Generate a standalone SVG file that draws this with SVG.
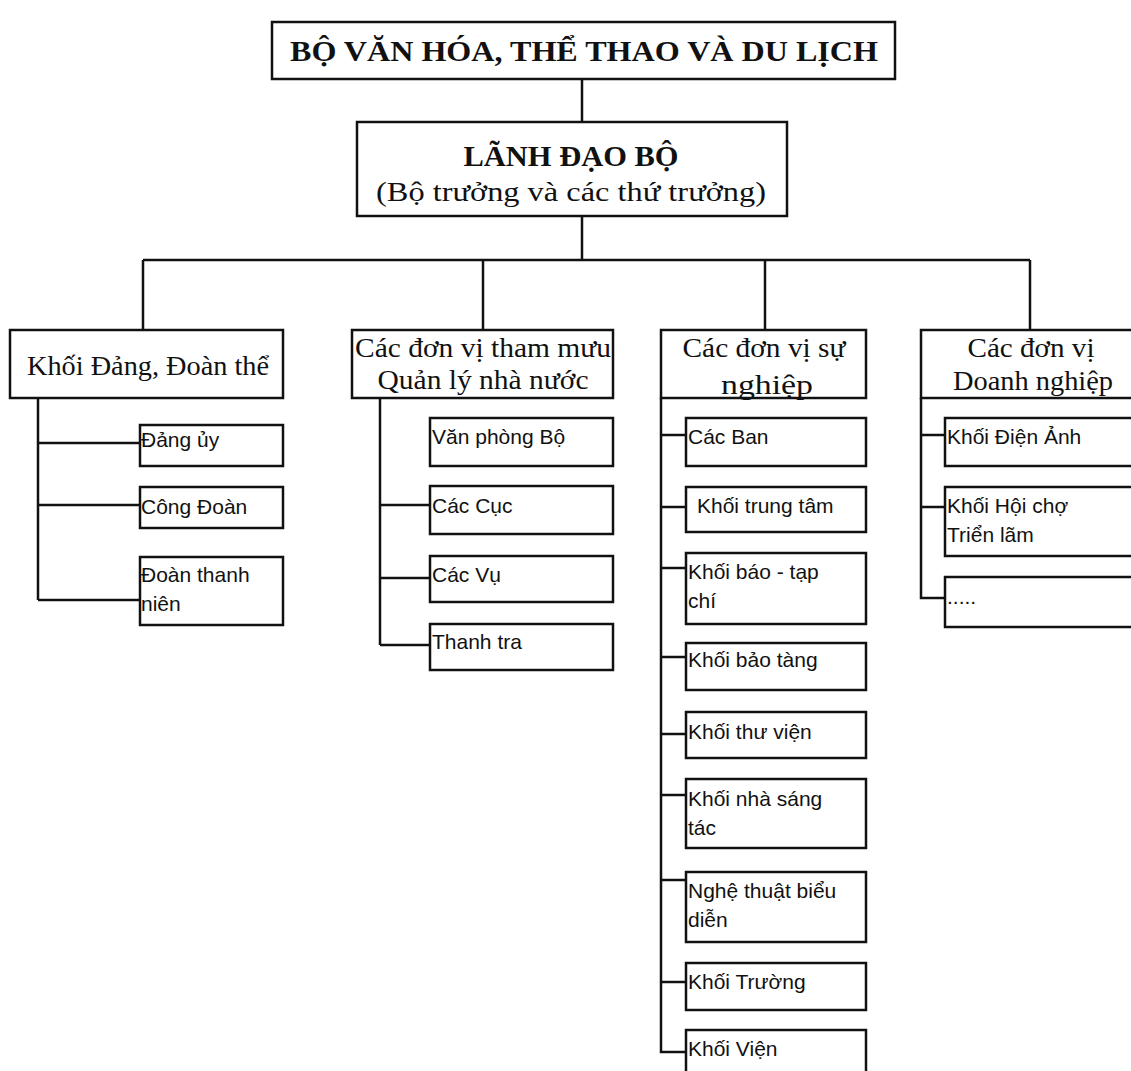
<svg xmlns="http://www.w3.org/2000/svg" width="1131" height="1071" viewBox="0 0 1131 1071">
<style>
.box{fill:#fff;stroke:#111;stroke-width:2.5}
.ln{stroke:#111;stroke-width:2.5;fill:none}
.t1{font-family:"Liberation Serif",serif;font-weight:bold;font-size:30px;fill:#111;text-anchor:middle}
.t2{font-family:"Liberation Serif",serif;font-size:28px;fill:#111;text-anchor:middle}
.t2b{font-family:"Liberation Serif",serif;font-weight:bold;font-size:29px;fill:#111;text-anchor:middle}
.s{font-family:"Liberation Sans",sans-serif;font-size:21px;fill:#111}
</style>
<rect width="1131" height="1071" fill="#fff"/>
<g id="connectors">
<path class="ln" d="M582 79V122M582 216V260M143 260H1030M143 260V330M483 260V330M765 260V330M1030 260V330"/>
<path class="ln" d="M38 398V600M38 443H140M38 505H140M38 600H140"/>
<path class="ln" d="M380 398V645M380 505H430M380 578H430M380 645H430"/>
<path class="ln" d="M661 398V1052H686M661 435H686M661 507H686M661 568H686M661 657H686M661 734H686M661 795H686M661 880H686M661 982H686"/>
<path class="ln" d="M921 398V598H945M921 435H945M921 507H945"/>
</g>
<g id="n-bo"><rect class="box" x="272" y="22" width="623" height="57"/><text class="t1" x="584" y="61" textLength="588" lengthAdjust="spacingAndGlyphs">BỘ VĂN HÓA, THỂ THAO VÀ DU LỊCH</text></g>
<g id="n-lanhdao"><rect class="box" x="357" y="122" width="430" height="94"/><text class="t2b" x="571" y="166" textLength="215" lengthAdjust="spacingAndGlyphs">LÃNH ĐẠO BỘ</text><text class="t2" x="571" y="201" textLength="390" lengthAdjust="spacingAndGlyphs">(Bộ trưởng và các thứ trưởng)</text></g>
<g id="n-khoidang"><rect class="box" x="10" y="330" width="273" height="68"/><text class="t2" x="148" y="375" textLength="242" lengthAdjust="spacingAndGlyphs">Khối Đảng, Đoàn thể</text></g>
<g id="n-thammuu"><rect class="box" x="352" y="330" width="261" height="68"/><text class="t2" x="483" y="357" textLength="256" lengthAdjust="spacingAndGlyphs">Các đơn vị tham mưu</text><text class="t2" x="483" y="389" textLength="211" lengthAdjust="spacingAndGlyphs">Quản lý nhà nước</text></g>
<g id="n-sunghiep"><rect class="box" x="661" y="330" width="205" height="68"/><text class="t2" x="764" y="357" textLength="163" lengthAdjust="spacingAndGlyphs">Các đơn vị sự</text><text class="t2" x="767" y="394" textLength="92" lengthAdjust="spacingAndGlyphs">nghiệp</text></g>
<g id="n-doanhnghiep"><rect class="box" x="921" y="330" width="212" height="68"/><text class="t2" x="1031" y="357" textLength="127" lengthAdjust="spacingAndGlyphs">Các đơn vị</text><text class="t2" x="1033" y="390" textLength="160" lengthAdjust="spacingAndGlyphs">Doanh nghiệp</text></g>

<g id="n-dangu"><rect class="box" x="140" y="425" width="143" height="41"/><text class="s" x="141" y="447">Đảng ủy</text></g>
<g id="n-congdoan"><rect class="box" x="140" y="487" width="143" height="41"/><text class="s" x="141" y="514">Công Đoàn</text></g>
<g id="n-doanthanhnien"><rect class="box" x="140" y="557" width="143" height="68"/><text class="s" x="141" y="582">Đoàn thanh</text><text class="s" x="141" y="611">niên</text></g>

<g id="n-vanphong"><rect class="box" x="430" y="418" width="183" height="48"/><text class="s" x="432" y="444">Văn phòng Bộ</text></g>
<g id="n-cuc"><rect class="box" x="430" y="486" width="183" height="48"/><text class="s" x="432" y="513">Các Cục</text></g>
<g id="n-vu"><rect class="box" x="430" y="556" width="183" height="46"/><text class="s" x="432" y="582">Các Vụ</text></g>
<g id="n-thanhtra"><rect class="box" x="430" y="624" width="183" height="46"/><text class="s" x="432" y="649">Thanh tra</text></g>

<g id="n-caban"><rect class="box" x="686" y="418" width="180" height="48"/><text class="s" x="688" y="444">Các Ban</text></g>
<g id="n-trungtam"><rect class="box" x="686" y="487" width="180" height="45"/><text class="s" x="697" y="513">Khối trung tâm</text></g>
<g id="n-baochi"><rect class="box" x="686" y="553" width="180" height="71"/><text class="s" x="688" y="579">Khối báo - tạp</text><text class="s" x="688" y="608">chí</text></g>
<g id="n-baotang"><rect class="box" x="686" y="643" width="180" height="47"/><text class="s" x="688" y="667">Khối bảo tàng</text></g>
<g id="n-thuvien"><rect class="box" x="686" y="712" width="180" height="46"/><text class="s" x="688" y="739">Khối thư viện</text></g>
<g id="n-sangtac"><rect class="box" x="686" y="779" width="180" height="69"/><text class="s" x="688" y="806">Khối nhà sáng</text><text class="s" x="688" y="835">tác</text></g>
<g id="n-nghethuat"><rect class="box" x="686" y="872" width="180" height="70"/><text class="s" x="688" y="898">Nghệ thuật biểu</text><text class="s" x="688" y="927">diễn</text></g>
<g id="n-truong"><rect class="box" x="686" y="963" width="180" height="47"/><text class="s" x="688" y="989">Khối Trường</text></g>
<g id="n-vien"><rect class="box" x="686" y="1030" width="180" height="50"/><text class="s" x="688" y="1056">Khối Viện</text></g>

<g id="n-dienanh"><rect class="box" x="945" y="418" width="190" height="48"/><text class="s" x="947" y="444">Khối Điện Ảnh</text></g>
<g id="n-hoicho"><rect class="box" x="945" y="487" width="190" height="69"/><text class="s" x="947" y="513">Khối Hội chợ</text><text class="s" x="947" y="542">Triển lãm</text></g>
<g id="n-khac"><rect class="box" x="945" y="577" width="190" height="50"/><text class="s" x="947" y="604">.....</text></g>
</svg>
